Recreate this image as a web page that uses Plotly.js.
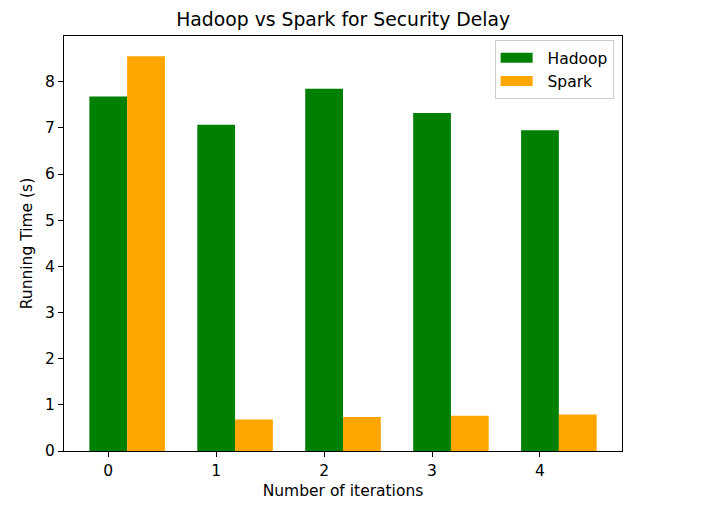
<!DOCTYPE html>
<html>
<head>
<meta charset="utf-8">
<script src="https://cdn.plot.ly/plotly-3.0.1.min.js"></script>
<style>html,body{margin:0;padding:0;background:#fff;}#chart{width:715px;height:512px;}</style>
</head>
<body>
<div id="chart"></div>
<script>
const iterations = [0, 1, 2, 3, 4];
const tickLabels = ["0", "1", "2", "3", "4"];
const hadoop = [7.68, 7.07, 7.85, 7.32, 6.95];
const spark = [8.55, 0.685, 0.735, 0.765, 0.79];
const seriesNames = ["Hadoop", "Spark"];
const seriesColors = ["green", "orange"];

const font = {family: "DejaVu Sans, sans-serif", size: 15.5, color: "#000"};
const gap = "\u00a0\u00a0";

const traces = [
  {type: "bar", name: seriesNames[0], x: iterations, y: hadoop, width: 0.35, offset: -0.175,
   marker: {color: seriesColors[0], line: {width: 0}}, showlegend: false},
  {type: "bar", name: seriesNames[1], x: iterations, y: spark, width: 0.35, offset: 0.175,
   marker: {color: seriesColors[1], line: {width: 0}}, showlegend: false},
  // legend proxies (matplotlib-style wide patches)
  {type: "scatter", mode: "lines", name: gap + seriesNames[0], x: [null], y: [null],
   line: {color: seriesColors[0], width: 11}, showlegend: true},
  {type: "scatter", mode: "lines", name: gap + seriesNames[1], x: [null], y: [null],
   line: {color: seriesColors[1], width: 11}, showlegend: true}
];

const layout = {
  width: 715, height: 512,
  margin: {l: 64, r: 93, t: 36, b: 61, pad: 0},
  paper_bgcolor: "#fff", plot_bgcolor: "#fff",
  font: font,
  barmode: "overlay",
  showlegend: true,
  title: {text: "Hadoop vs Spark for Security Delay", x: 0.48, xanchor: "center", y: 0.962, yanchor: "middle",
          font: {family: "DejaVu Sans, sans-serif", size: 18.8, color: "#000"}},
  xaxis: {
    range: [-0.41, 4.76], tickvals: iterations, ticktext: tickLabels,
    showgrid: false, zeroline: false, showline: true, linecolor: "#000", linewidth: 1, mirror: true,
    ticks: "outside", ticklen: 5, tickcolor: "#000", tickfont: font,
    title: {text: "Number of iterations", font: font, standoff: 6}
  },
  yaxis: {
    range: [0, 8.99], tickvals: [0,1,2,3,4,5,6,7,8],
    showgrid: false, zeroline: false, showline: true, linecolor: "#000", linewidth: 1, mirror: true,
    ticks: "outside", ticklen: 5, tickcolor: "#000", tickfont: font,
    title: {text: "Running Time (s)", font: font, standoff: 8}
  },
  legend: {x: 0.985, xanchor: "right", y: 0.99, yanchor: "top", bgcolor: "rgba(255,255,255,0.8)",
           bordercolor: "#ccc", borderwidth: 1, font: font, traceorder: "normal", itemwidth: 32,
           tracegroupgap: 0}
};

Plotly.newPlot("chart", traces, layout, {displayModeBar: false, staticPlot: true});
</script>
</body>
</html>
